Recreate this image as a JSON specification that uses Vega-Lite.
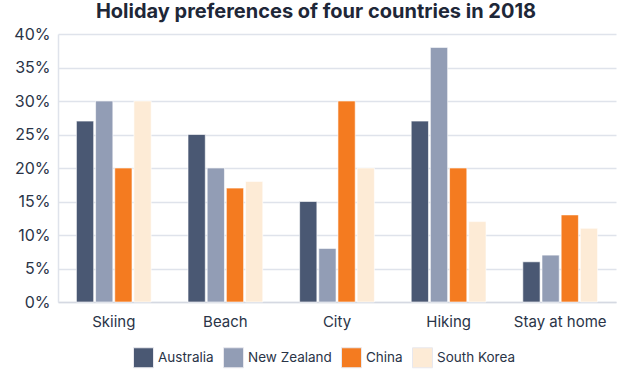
{
  "$schema": "https://vega.github.io/schema/vega-lite/v6.json",
  "width": 558,
  "height": 268,
  "autosize": {"type": "none"},
  "padding": {"left": 58, "top": 34, "right": 16, "bottom": 77},
  "background": "white",
  "title": {
    "text": "Holiday preferences of four countries in 2018",
    "font": "Inter",
    "fontSize": 20,
    "fontWeight": "bold",
    "color": "#1e2738",
    "anchor": "middle",
    "dx": -21,
    "offset": 4
  },
  "config": {
    "font": "Inter",
    "view": {"stroke": null},
    "axis": {"labelFont": "Inter", "labelColor": "#2a3447", "labelFontSize": 15}
  },
  "data": {
    "values": [
      {"activity": "Skiing", "country": "Australia", "value": 0.27},
      {"activity": "Skiing", "country": "New Zealand", "value": 0.30},
      {"activity": "Skiing", "country": "China", "value": 0.20},
      {"activity": "Skiing", "country": "South Korea", "value": 0.30},
      {"activity": "Beach", "country": "Australia", "value": 0.25},
      {"activity": "Beach", "country": "New Zealand", "value": 0.20},
      {"activity": "Beach", "country": "China", "value": 0.17},
      {"activity": "Beach", "country": "South Korea", "value": 0.18},
      {"activity": "City", "country": "Australia", "value": 0.15},
      {"activity": "City", "country": "New Zealand", "value": 0.08},
      {"activity": "City", "country": "China", "value": 0.30},
      {"activity": "City", "country": "South Korea", "value": 0.20},
      {"activity": "Hiking", "country": "Australia", "value": 0.27},
      {"activity": "Hiking", "country": "New Zealand", "value": 0.38},
      {"activity": "Hiking", "country": "China", "value": 0.20},
      {"activity": "Hiking", "country": "South Korea", "value": 0.12},
      {"activity": "Stay at home", "country": "Australia", "value": 0.06},
      {"activity": "Stay at home", "country": "New Zealand", "value": 0.07},
      {"activity": "Stay at home", "country": "China", "value": 0.13},
      {"activity": "Stay at home", "country": "South Korea", "value": 0.11}
    ]
  },
  "mark": {"type": "bar", "stroke": "#ffffff", "strokeOpacity": 0.6, "strokeWidth": 1},
  "encoding": {
    "x": {
      "field": "activity",
      "type": "nominal",
      "sort": ["Skiing", "Beach", "City", "Hiking", "Stay at home"],
      "scale": {"paddingInner": 0.33, "paddingOuter": 0.165},
      "axis": {
        "title": null,
        "labelAngle": 0,
        "ticks": false,
        "labelPadding": 12,
        "domainColor": "#d5d9e2",
        "domainWidth": 1.5
      }
    },
    "xOffset": {
      "field": "country",
      "type": "nominal",
      "sort": ["Australia", "New Zealand", "China", "South Korea"],
      "scale": {"paddingInner": 0.1}
    },
    "y": {
      "field": "value",
      "type": "quantitative",
      "scale": {"domain": [0, 0.4]},
      "axis": {
        "title": null,
        "format": ".0%",
        "values": [0, 0.05, 0.1, 0.15, 0.2, 0.25, 0.3, 0.35, 0.4],
        "labelOverlap": false,
        "labelFontSize": 16,
        "ticks": false,
        "labelPadding": 8,
        "gridColor": "#dfe3eb",
        "gridWidth": 1.5,
        "domainColor": "#dfe3eb",
        "domainWidth": 1.5
      }
    },
    "color": {
      "field": "country",
      "type": "nominal",
      "sort": ["Australia", "New Zealand", "China", "South Korea"],
      "scale": {
        "domain": ["Australia", "New Zealand", "China", "South Korea"],
        "range": ["#4a5873", "#929db5", "#f47b20", "#fdebd6"]
      },
      "legend": {
        "title": null,
        "orient": "none",
        "direction": "horizontal",
        "legendX": 75,
        "legendY": 313,
        "symbolType": "square",
        "symbolSize": 400,
        "symbolStrokeColor": "#e8e8ee",
        "symbolStrokeWidth": 1,
        "labelFontSize": 13.5,
        "labelColor": "#2a3447",
        "labelFont": "Inter",
        "columnPadding": 7,
        "labelOffset": 4
      }
    }
  }
}
